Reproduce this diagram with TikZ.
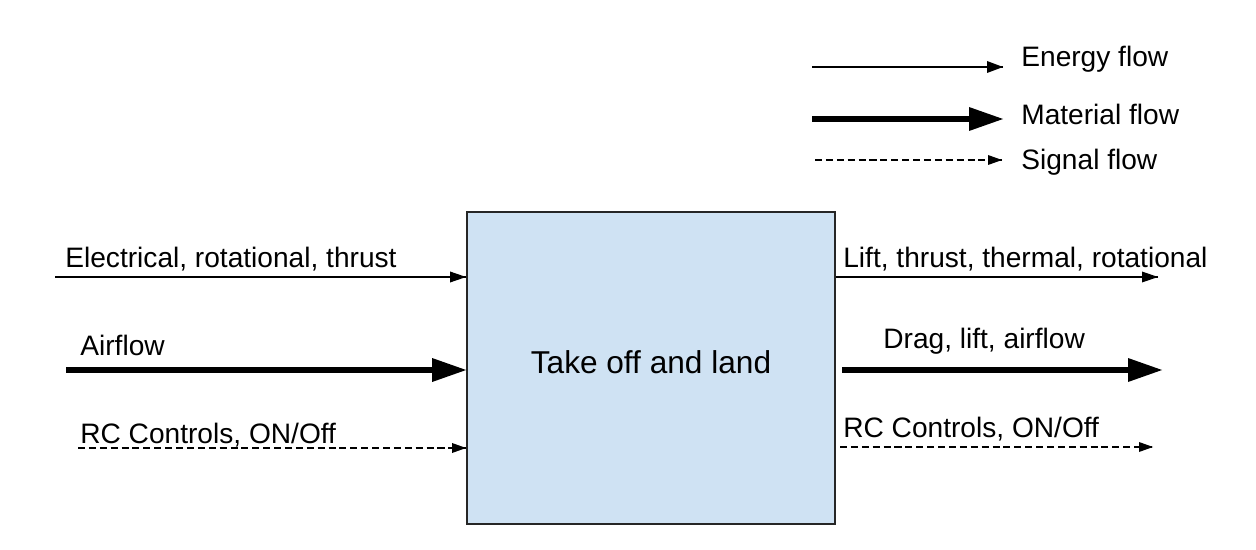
\documentclass[tikz,border=0pt]{standalone}
\usepackage{fontspec}
\setmainfont{Liberation Sans}
\definecolor{boxblue}{HTML}{CFE2F3}
\begin{document}
\begin{tikzpicture}[x=0.02cm,y=0.02cm]
\tikzstyle{every node}+=[inner sep=0pt]
\tikzstyle{lbl}=[anchor=base west,font=\fontsize{16}{19}\selectfont]
\tikzstyle{energy}=[black,line width=0.85pt]
\tikzstyle{material}=[black,line width=3.2pt,shorten >=17pt]
\tikzstyle{signal}=[black,line width=0.85pt,dash pattern=on 4pt off 2.2pt]
\useasboundingbox (0,0) rectangle (1256,-550);
% function block
\node (task) [draw=black!85,fill=boxblue,line width=1.1pt,minimum width=7.36cm,minimum height=6.24cm,text depth=6.8pt,font=\fontsize{18}{22}\selectfont] at (651,-368) {Take off and land};
% legend
\coordinate (legE) at (812,-67);
\coordinate (legEEnd) at (1003,-67);
\coordinate (legM) at (812,-119);
\coordinate (legMEnd) at (1003,-119);
\coordinate (legS) at (815,-160);
\coordinate (legSEnd) at (1002,-160);
\draw [energy] (legE) -- (legEEnd);
\fill [black] (legEEnd) -- ++(-16,6) -- ++(0,-12) -- cycle;
\draw [material] (legM) -- (legMEnd);
\fill [black] (legMEnd) -- ++(-34,12) -- ++(0,-24) -- cycle;
\draw [signal] (legS) -- (legSEnd);
\fill [black] (legSEnd) -- ++(-14,5) -- ++(0,-10) -- cycle;
\node (legEText) [lbl] at (1021,-67) {Energy flow};
\node (legMText) [lbl] at (1021,-125) {Material flow};
\node (legSText) [lbl] at (1021,-170) {Signal flow};
% inputs
\coordinate (eIn) at (55,-277);
\coordinate (eInEnd) at (eIn -| task.west);
\coordinate (mIn) at (66,-370);
\coordinate (mInEnd) at (mIn -| task.west);
\coordinate (sIn) at (78,-448);
\coordinate (sInEnd) at (sIn -| task.west);
\draw [energy] (eIn) -- (eInEnd);
\fill [black] (eInEnd) -- ++(-16,5.5) -- ++(0,-11) -- cycle;
\draw [material] (mIn) -- (mInEnd);
\fill [black] (mInEnd) -- ++(-34,12) -- ++(0,-24) -- cycle;
\draw [signal] (sIn) -- (sInEnd);
\fill [black] (sInEnd) -- ++(-14,5) -- ++(0,-10) -- cycle;
\node (eInText) [lbl] at (65,-268) {Electrical, rotational, thrust};
\node (mInText) [lbl] at (80,-355) {Airflow};
\node (sInText) [lbl] at (80,-443) {RC Controls, ON/Off};
% outputs
\coordinate (eOutEnd) at (1158,-277);
\coordinate (eOut) at (task.east |- eOutEnd);
\coordinate (mOut) at (842,-370);
\coordinate (mOutEnd) at (1162,-370);
\coordinate (sOut) at (840,-447);
\coordinate (sOutEnd) at (1153,-447);
\draw [energy] (eOut) -- (eOutEnd);
\fill [black] (eOutEnd) -- ++(-16,5.5) -- ++(0,-11) -- cycle;
\draw [material] (mOut) -- (mOutEnd);
\fill [black] (mOutEnd) -- ++(-34,12) -- ++(0,-24) -- cycle;
\draw [signal] (sOut) -- (sOutEnd);
\fill [black] (sOutEnd) -- ++(-14,5) -- ++(0,-10) -- cycle;
\node (eOutText) [lbl] at (843,-268) {Lift, thrust, thermal, rotational};
\node (mOutText) [lbl] at (883,-348) {Drag, lift, airflow};
\node (sOutText) [lbl] at (843,-437) {RC Controls, ON/Off};
\end{tikzpicture}
\end{document}
